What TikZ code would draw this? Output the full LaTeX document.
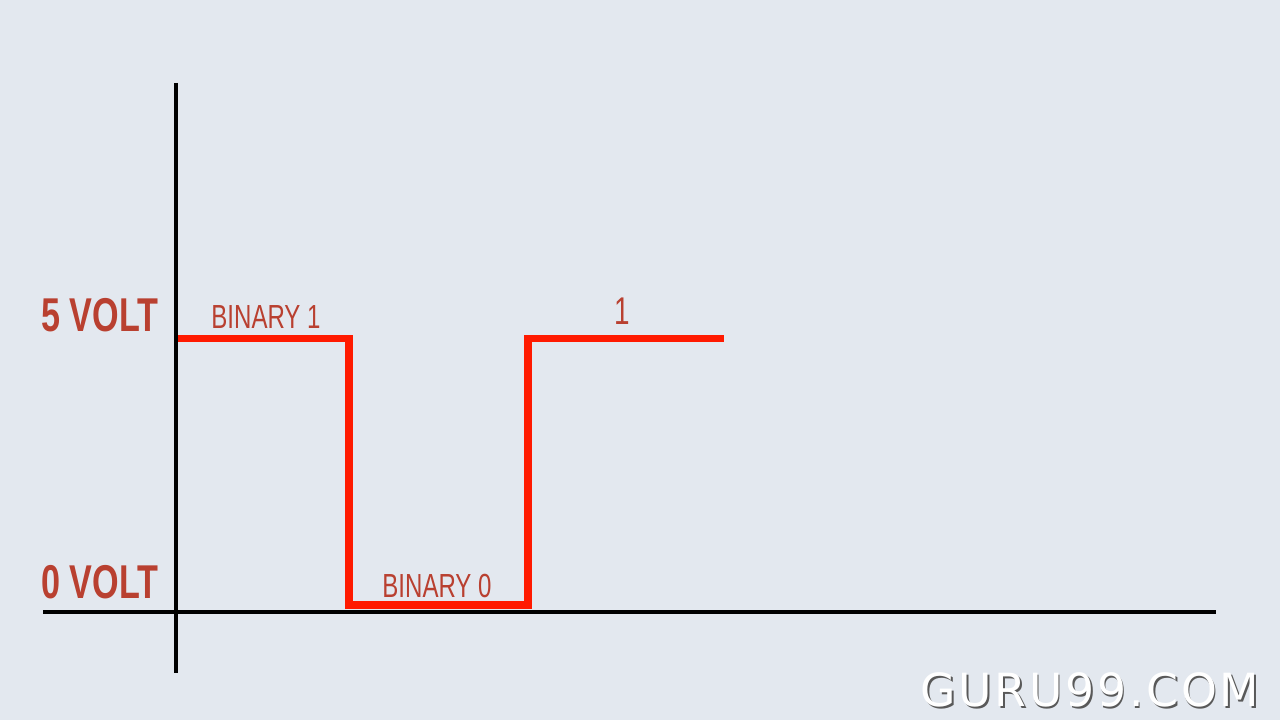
\documentclass[tikz,border=0pt]{standalone}
\usepackage{fontspec}
\newfontfamily\handfont[FakeStretch=0.72]{Liberation Sans}
\newfontfamily\markfont[LetterSpace=6]{DejaVu Sans}
\definecolor{paper}{RGB}{227,232,239}
\definecolor{signal}{RGB}{255,26,0}
\definecolor{labelred}{RGB}{185,64,48}
\tikzset{
  volt/.style={text=labelred, font=\handfont\bfseries\fontsize{13.5}{13.5}\selectfont, inner sep=0pt},
  bitlabel/.style={text=labelred, font=\handfont\fontsize{9.5}{9.5}\selectfont, inner sep=0pt}
}
\begin{document}
\begin{tikzpicture}[scale=1]
            \fill[paper] (0,0) rectangle (12.8,7.2);
            \useasboundingbox (0,0) rectangle (12.8,7.2);
            \draw[line width=1.15pt] (1.76,6.37) -- (1.76,0.47);
            \draw[line width=1.15pt] (0.43,1.08) -- (12.16,1.08);
            \draw[signal, line width=2pt] (1.78,3.81) -- (3.49,3.81) -- (3.49,1.15)
                -- (5.28,1.15) -- (5.28,3.81) -- (7.24,3.81);
            \node[volt] (five) at (1.00,4.05) {5 VOLT};
            \node[volt] (zero) at (1.00,1.38) {0 VOLT};
            \node[bitlabel] (bone) at (2.66,4.03) {BINARY 1};
            \node[bitlabel] (bzero) at (4.37,1.34) {BINARY 0};
            \node[bitlabel, font=\handfont\fontsize{11}{11}\selectfont] (one) at (6.22,4.09) {1};
            \node[text=gray!70!black, font=\markfont\fontsize{13}{13}\selectfont] at (10.915,0.285) {GURU99.COM};
            \node[text=white, font=\markfont\fontsize{13}{13}\selectfont] (mark) at (10.9,0.30) {GURU99.COM};
        \end{tikzpicture}
\end{document}
